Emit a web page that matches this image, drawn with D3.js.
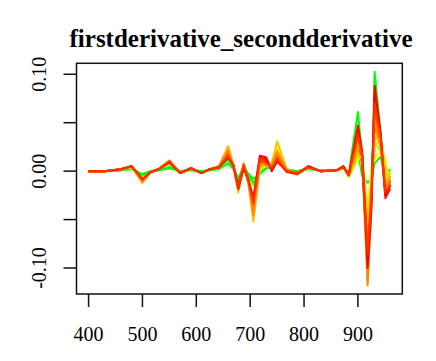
<!DOCTYPE html>
<body style="margin:0;background:#fff">
<svg width="436" height="361" font-family="'Liberation Serif', 'Times New Roman', serif"></svg>
</body>
<script src="https://d3js.org/d3.v7.min.js"></script>
<script>

// wavelengths (nm) shared by every spectrum
var wavelengths = [400, 430, 460, 480, 500, 515, 530, 550, 570, 590,
                   610, 625, 642, 659, 669, 678, 688, 697, 706, 718,
                   730, 740, 750, 768, 787, 808, 830, 861, 873, 883,
                   900, 908, 918, 925, 931, 942, 951, 960];

// one array per sample
var greenInner = [0,0,0.001,0.002,-0.003,0,0.001,0.003,0,0.001,0,0.001,0.002,0.008,0.002,-0.007,0.004,-0.003,-0.008,-0.003,0.003,0.004,0.012,0.001,0,0.002,0.001,0.001,0.003,-0.001,0.020,-0.005,-0.012,-0.008,0.008,0.015,-0.005,0.002];
var yellowGreen = [0,0,0.001,0.003,-0.005,0,0.001,0.005,-0.001,0.002,-0.001,0.001,0.003,0.013,0.004,-0.012,0.006,-0.006,-0.015,0.002,0.005,0.005,0.015,0.002,-0.001,0.003,0.001,0.001,0.004,-0.003,0.025,0.002,-0.035,-0.010,0.030,0.020,-0.008,0.000];
var greenOuter = [0,0,0.001,0.003,-0.004,0,0.001,0.004,0,0.002,0,0.001,0.003,0.012,0.004,-0.010,0.006,-0.004,-0.012,-0.002,0.004,0.006,0.018,0.002,0,0.003,0.001,0.001,0.004,-0.002,0.061,0.015,-0.113,-0.030,0.1025,0.040,-0.015,-0.005];
var red1 = [0,0,0.002,0.005,-0.009,-0.001,0.002,0.010,-0.002,0.003,-0.002,0.002,0.004,0.017,0.005,-0.020,0.005,-0.012,-0.035,0.012,0.010,0.004,0.013,0,-0.003,0.004,0,0.001,0.004,-0.004,0.040,0.012,-0.090,-0.025,0.075,0.035,-0.028,-0.018];
var red2 = [0,0,0.002,0.005,-0.009,-0.001,0.002,0.009,-0.002,0.003,-0.002,0.002,0.004,0.014,0.005,-0.014,0.006,-0.009,-0.030,0.014,0.012,0.002,0.011,-0.001,-0.003,0.005,0,0.001,0.005,-0.004,0.036,0.008,-0.095,-0.030,0.080,0.038,-0.024,-0.012];
var red3 = [0,0,0.002,0.005,-0.008,-0.001,0.002,0.009,-0.002,0.003,-0.002,0.002,0.004,0.015,0.006,-0.018,0.004,-0.010,-0.028,0.016,0.014,0,0.010,0,-0.003,0.005,0,0.001,0.005,-0.004,0.047,0.020,-0.100,-0.040,0.088,0.040,-0.025,-0.015];
var redOrange = [0,0,0.002,0.005,-0.009,-0.001,0.002,0.010,-0.002,0.003,-0.002,0.002,0.004,0.016,0.005,-0.016,0.006,-0.011,-0.033,0.013,0.009,0.003,0.012,0,-0.003,0.004,0,0.001,0.004,-0.004,0.038,0.016,-0.085,-0.028,0.070,0.036,-0.022,-0.014];
var yellow1 = [0,0,0.002,0.004,-0.012,-0.001,0.002,0.009,-0.002,0.003,-0.002,0.002,0.004,0.022,0.005,-0.018,0.007,-0.012,-0.045,0.003,0.005,0.007,0.025,0.002,-0.003,0.004,0,0.001,0.003,-0.006,0.012,0.018,-0.043,0.005,0.012,0.022,0.012,-0.019];
var gold1 = [0,0,0.002,0.005,-0.011,-0.001,0.002,0.010,-0.002,0.003,-0.002,0.002,0.004,0.024,0.006,-0.020,0.007,-0.013,-0.040,0.006,0.006,0.006,0.022,0.001,-0.003,0.004,0,0.001,0.004,-0.005,0.015,0.014,-0.050,-0.010,0.025,0.035,0.005,-0.014];
var gold2 = [0,0,0.002,0.005,-0.012,-0.001,0.002,0.010,-0.002,0.003,-0.002,0.002,0.005,0.026,0.006,-0.022,0.007,-0.014,-0.052,0.004,0.006,0.008,0.031,0.002,-0.004,0.004,0,0.001,0.004,-0.005,0.019,0.012,-0.055,-0.012,0.035,0.030,-0.012,-0.002];
var orangeRed = [0,0,0.002,0.005,-0.010,-0.001,0.002,0.010,-0.002,0.003,-0.002,0.002,0.004,0.020,0.005,-0.017,0.004,-0.011,-0.038,0.010,0.008,0.005,0.015,0.001,-0.002,0.004,0,0.001,0.004,-0.004,0.033,0.015,-0.080,-0.020,0.064,0.030,-0.020,-0.010];
var orange1 = [0,0,0.002,0.005,-0.010,-0.001,0.002,0.010,-0.002,0.003,-0.002,0.002,0.004,0.019,0.005,-0.016,0.008,-0.012,-0.036,0.009,0.007,0.005,0.017,0.001,-0.002,0.004,0,0.001,0.004,-0.004,0.022,0.010,-0.065,-0.015,0.045,0.025,-0.015,-0.005];
var orange3 = [0,0,0.002,0.005,-0.010,-0.001,0.002,0.011,-0.002,0.003,-0.002,0.002,0.004,0.021,0.006,-0.017,0.006,-0.010,-0.040,0.007,0.006,0.007,0.019,0.001,-0.003,0.004,0,0.001,0.004,-0.005,0.025,0.012,-0.070,-0.020,0.055,0.032,-0.018,-0.008];
var orange2 = [0,0,0.002,0.005,-0.011,-0.001,0.002,0.011,-0.002,0.003,-0.002,0.002,0.005,0.022,0.005,-0.019,0.008,-0.013,-0.045,0.008,0.006,0.006,0.020,0.001,-0.003,0.004,0,0.001,0.005,-0.005,0.028,0.018,-0.118,-0.035,0.050,0.028,-0.022,-0.012];

// drawing order: greens underneath, reds and oranges interleaved on top
var samples = [greenInner, yellowGreen, greenOuter, yellow1, gold1, orange1, red1,
               orange3, red2, gold2, orangeRed, orange2, red3, redOrange];
var sampleColors = ["#00ff00", "#9aff00", "#00ff00", "#ffff00", "#ffd000", "#ff9900", "#ff2200",
                    "#ffaa00", "#ff1100", "#ffc000", "#ff5500", "#ff8800", "#ff0000", "#ff3300"];

var xTicks = [400, 500, 600, 700, 800, 900];
var yTicks = [-0.10, -0.05, 0, 0.05, 0.10];
var yTickLabels = {"-0.1": "-0.10", "0": "0.00", "0.1": "0.10"};

var svg = d3.select("svg"),
    boxL = 76.5, boxR = 402.3, boxT = 63.3, boxB = 294;

// R-style 4% padding around the data range
var xr = d3.extent(wavelengths),
    yr = d3.extent(d3.merge(samples)),
    xp = (xr[1] - xr[0]) * 0.04,
    yp = (yr[1] - yr[0]) * 0.04;

var x = d3.scaleLinear().domain([xr[0] - xp, xr[1] + xp]).range([boxL, boxR]);
var y = d3.scaleLinear().domain([yr[0] - yp, yr[1] + yp]).range([boxB, boxT]);

var line = d3.line()
    .x(function(d, i) { return x(wavelengths[i]); })
    .y(function(d) { return y(d); });

svg.append("g").selectAll("path")
    .data(samples)
  .enter().append("path")
    .attr("d", line)
    .attr("fill", "none")
    .attr("stroke", function(d, i) { return sampleColors[i]; })
    .attr("stroke-width", 2)
    .attr("stroke-linejoin", "round");

// box
svg.append("rect")
    .attr("x", boxL).attr("y", boxT)
    .attr("width", boxR - boxL).attr("height", boxB - boxT)
    .attr("fill", "none").attr("stroke", "#111").attr("stroke-width", 1.5);

// x axis
var xa = svg.append("g");
xa.selectAll("line").data(xTicks).enter().append("line")
    .attr("x1", x).attr("x2", x)
    .attr("y1", boxB).attr("y2", boxB + 13)
    .attr("stroke", "#111").attr("stroke-width", 1.5);
xa.selectAll("text").data(xTicks).enter().append("text")
    .attr("x", x).attr("y", 341)
    .attr("text-anchor", "middle")
    .attr("font-size", 20)
    .text(function(d) { return d; });

// y axis
var ya = svg.append("g");
ya.selectAll("line").data(yTicks).enter().append("line")
    .attr("x1", boxL - 13).attr("x2", boxL)
    .attr("y1", y).attr("y2", y)
    .attr("stroke", "#111").attr("stroke-width", 1.5);
ya.selectAll("text").data(yTicks.filter(function(d) { return yTickLabels[String(d)]; }))
  .enter().append("text")
    .attr("transform", function(d) { return "translate(46," + y(d) + ") rotate(-90)"; })
    .attr("text-anchor", "middle")
    .attr("font-size", 20)
    .text(function(d) { return yTickLabels[String(d)]; });

svg.append("text")
    .attr("x", 241).attr("y", 47)
    .attr("text-anchor", "middle")
    .attr("font-size", 25)
    .attr("font-weight", "bold")
    .text("firstderivative_secondderivative");

</script>
